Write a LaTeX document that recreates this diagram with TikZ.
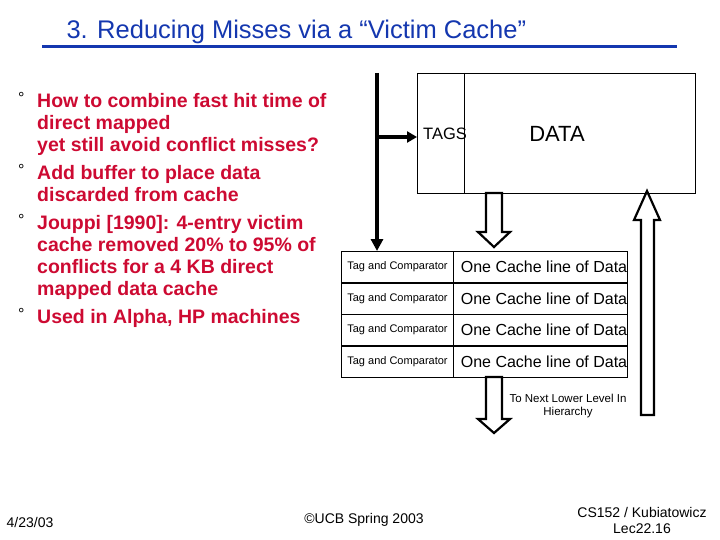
\documentclass[tikz,border=0pt]{standalone}
\usepackage{fontspec}
\setmainfont{Liberation Sans}
\usetikzlibrary{arrows.meta}
\definecolor{tblue}{RGB}{20,55,175}
\definecolor{bred}{RGB}{205,10,50}
\begin{document}
\begin{tikzpicture}[x=1pt,y=-1pt,
  hol/.style={draw,line width=2.2pt,fill=white},
  cell/.style={draw,thick},
  bul/.style={anchor=north west,align=left,text=bred,font=\fontsize{19.5}{22}\selectfont\bfseries,inner sep=0pt}]
\useasboundingbox (0,0) rectangle (720,540);
\node[anchor=west,text=tblue,font=\fontsize{25.5}{27}\selectfont] (title) at (63,32) {3. Reducing Misses via a “Victim Cache”};
\draw[tblue,line width=3pt] (42,47) -- (677,47);
% bullets
\foreach \y/\t in {93/{How to combine fast hit time of\\direct mapped\\yet still avoid conflict misses?},
  165/{Add buffer to place data\\discarded from cache},
  215/{Jouppi [1990]: 4-entry victim\\cache removed 20\% to 95\% of\\conflicts for a 4 KB direct\\mapped data cache},
  309/{Used in Alpha, HP machines}}{
  \node[anchor=north west,inner sep=0pt,font=\fontsize{16}{18}\selectfont] at (18,\y-1) {°};
  \node[bul] at (37,\y) {\t};
}
% cache
\draw[thick] (417,73) rectangle (695,193);
\draw[thick] (464,73) -- (464,193);
\node[font=\fontsize{16.5}{18}\selectfont] (tags) at (445,134) {TAGS};
\node[font=\fontsize{22}{24}\selectfont] (data) at (557,134) {DATA};
\coordinate (top) at (377,73);
\coordinate (br) at (377,137);
\coordinate (tagin) at (417,137);
\coordinate (vtop) at (377,251);
\draw[line width=4pt,-{Triangle[length=12pt,width=12pt]}] (top) -- (vtop);
\draw[line width=4pt,-{Triangle[length=10pt,width=11pt]}] (br) -- (tagin);
% hollow arrows
\draw[hol] (486,193) -- (502,193) -- (502,232) -- (510,232) -- (494,247) -- (478,232) -- (486,232) -- cycle;
\draw[hol] (486,377) -- (502,377) -- (502,419) -- (510,419) -- (494,433) -- (478,419) -- (486,419) -- cycle;
\draw[hol] (641,415) -- (654,415) -- (654,220) -- (660,220) -- (647,191) -- (634,220) -- (641,220) -- cycle;
% table
\foreach \i/\y in {1/251,2/283,3/314,4/346}{
  \draw[cell] (341,\y) rectangle (453,\y+31.5);
  \draw[cell] (453,\y) rectangle (627,\y+31.5);
  \node[font=\fontsize{11}{12}\selectfont] (tc\i) at (397.5,\y+16) {Tag and Comparator};
  \node[font=\fontsize{16}{18}\selectfont] (cl\i) at (544,\y+16) {One Cache line of Data};
}
\node[align=center,font=\fontsize{11.5}{13.5}\selectfont] (next) at (568,406) {To Next Lower Level In\\Hierarchy};
% footer
\node[font=\fontsize{14}{16}\selectfont] (date) at (30,522) {4/23/03};
\node[font=\fontsize{14}{16}\selectfont] (ucb) at (364,520) {©UCB Spring 2003};
\node[align=center,font=\fontsize{14}{16}\selectfont] (cs) at (642,520) {CS152 / Kubiatowicz\\Lec22.16};
\end{tikzpicture}
\end{document}
